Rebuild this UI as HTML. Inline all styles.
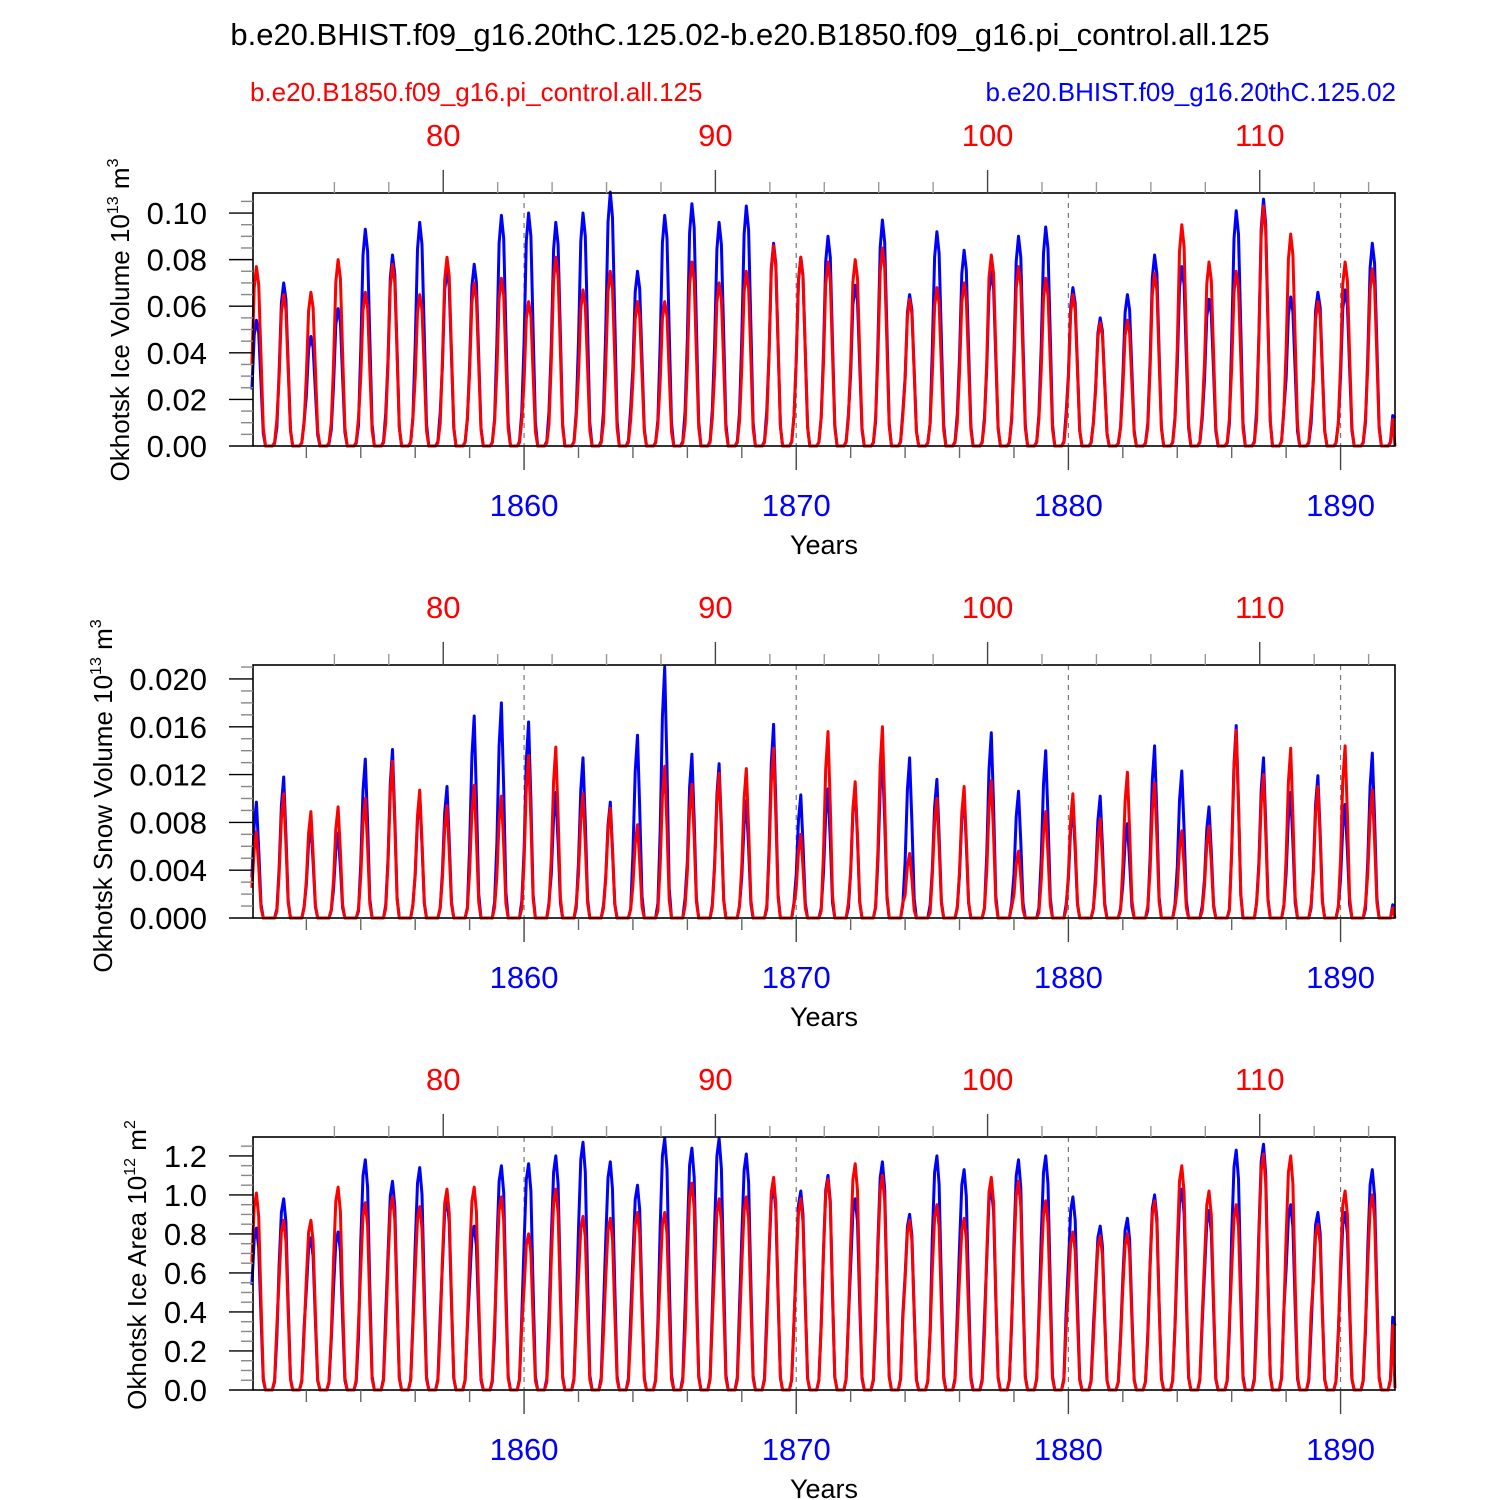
<!DOCTYPE html>
<html><head><meta charset="utf-8"><style>
html,body{margin:0;padding:0;background:#fff}
svg{display:block;font-family:"Liberation Sans",sans-serif}
</style></head><body>
<svg id="chart" width="1500" height="1500" viewBox="0 0 1500 1500" xmlns="http://www.w3.org/2000/svg">
<text x="750" y="45" text-anchor="middle" font-size="31">b.e20.BHIST.f09_g16.20thC.125.02-b.e20.B1850.f09_g16.pi_control.all.125</text>
<text x="250" y="101" font-size="26" fill="#f00">b.e20.B1850.f09_g16.pi_control.all.125</text>
<text x="1396" y="101" text-anchor="end" font-size="26" fill="#00f">b.e20.BHIST.f09_g16.20thC.125.02</text>
</svg>
<script>
const years = [1850,1851,1852,1853,1854,1855,1856,1857,1858,1859,1860,1861,1862,1863,1864,1865,1866,1867,1868,1869,1870,1871,1872,1873,1874,1875,1876,1877,1878,1879,1880,1881,1882,1883,1884,1885,1886,1887,1888,1889,1890,1891];
const iceVolBlue = [.054,.070,.047,.059,.093,.082,.096,.076,.078,.099,.100,.096,.100,.109,.075,.099,.104,.096,.103,.087,.081,.090,.069,.097,.065,.092,.084,.075,.090,.094,.068,.055,.065,.082,.077,.063,.101,.106,.064,.066,.067,.087];
const iceVolRed = [.077,.065,.066,.080,.066,.078,.065,.081,.070,.072,.062,.081,.067,.075,.062,.062,.079,.070,.075,.086,.081,.079,.080,.085,.063,.068,.070,.082,.077,.072,.065,.053,.054,.074,.095,.079,.075,.103,.091,.062,.079,.076];
const snowBlue = [.0097,.0118,.0078,.0071,.0133,.0141,.0102,.0110,.0169,.0180,.0164,.0105,.0134,.0097,.0153,.0210,.0137,.0129,.0098,.0162,.0103,.0108,.0110,.0135,.0134,.0116,.0103,.0155,.0106,.0140,.0094,.0102,.0079,.0144,.0123,.0093,.0161,.0134,.0105,.0119,.0095,.0138];
const snowRed = [.0072,.0104,.0089,.0093,.0100,.0131,.0107,.0094,.0111,.0102,.0136,.0143,.0104,.0092,.0078,.0127,.0112,.0121,.0125,.0142,.0070,.0156,.0114,.0160,.0054,.0100,.0110,.0115,.0056,.0089,.0104,.0083,.0122,.0113,.0073,.0077,.0157,.0120,.0142,.0110,.0144,.0107];
const areaBlue = [.83,.98,.78,.81,1.18,1.07,1.14,.98,.84,1.15,1.16,1.20,1.27,1.17,1.05,1.29,1.24,1.29,1.21,1.05,1.02,1.10,.98,1.17,.90,1.20,1.13,1.04,1.18,1.20,.99,.84,.88,1.00,1.03,.92,1.23,1.26,.95,.91,.91,1.13];
const areaRed = [1.01,.87,.87,1.04,.96,.99,.94,1.03,1.04,.99,.80,1.03,.89,.88,.91,.91,1.06,.98,.99,1.09,.98,1.08,1.16,1.10,.87,.95,.88,1.09,1.07,.97,.81,.79,.80,.97,1.15,1.02,.95,1.21,1.20,.85,1.02,1.00];
const shapeIce = [.45,.88,1.0,.9,.5,.1,0,0,0,0,.02,.15];
const shapeSnow = [.35,.8,1.0,.6,.12,0,0,0,0,0,0,.08];
const shapeArea = [.65,.93,1.0,.88,.45,.06,0,0,0,0,.05,.33];
const endJan = [[.012,0],[.001,0],[.33,.01]];
const blueTicks = [1860,1870,1880,1890];
const redTicks = [80,90,100,110];
const redOffset = 1777.03;

const svg = document.getElementById('chart');
const NS = 'http://www.w3.org/2000/svg';
function mk(tag, attrs, parent){const e=document.createElementNS(NS,tag);for(const k in attrs)e.setAttribute(k,attrs[k]);(parent||svg).appendChild(e);return e;}
const X0=253, X1=1395, XMIN=1850.04, XMAX=1892.0;
const xs = t => X0 + (t-XMIN)/(XMAX-XMIN)*(X1-X0);

const panels = [
 {top:193,ymax:0.1086,major:[0,.02,.04,.06,.08,.10],dec:2,minor:.005,blue:iceVolBlue,red:iceVolRed,shape:shapeIce,title:['Okhotsk Ice Volume 10','13',' m','3'],tx:120,cy:320,name:'ice-volume'},
 {top:665,ymax:0.02117,major:[0,.004,.008,.012,.016,.020],dec:3,minor:.001,blue:snowBlue,red:snowRed,shape:shapeSnow,title:['Okhotsk Snow Volume 10','13',' m','3'],tx:103,cy:796,name:'snow-volume'},
 {top:1137,ymax:1.297,major:[0,.2,.4,.6,.8,1.0,1.2],dec:1,minor:.05,blue:areaBlue,red:areaRed,shape:shapeArea,title:['Okhotsk Ice Area 10','12',' m','2'],tx:137,cy:1265,name:'ice-area'}
];
panels.forEach((p,pi)=>{
  const top=p.top, bot=top+253;
  const ys = v => bot - v/p.ymax*(bot-top);
  const g = mk('g',{});
  
  
  blueTicks.forEach(t=>{
    const l=mk('line',{x1:xs(t),x2:xs(t),y1:top,y2:bot,stroke:'#777','stroke-width':1.2,'stroke-dasharray':'5,5'},g);
    
    
  });
  [['blue',p.blue,0],['red',p.red,1]].forEach(([col,arr,si])=>{
    const pts=[];
    years.forEach((y,i)=>{ p.shape.forEach((s,m)=>{ pts.push([xs(y+m/12),ys(arr[i]*s)]); }); });
    pts.push([xs(XMAX),ys(endJan[pi][si])]);
    const pl=mk('polyline',{points:pts.map(q=>q[0].toFixed(1)+','+q[1].toFixed(1)).join(' '),fill:'none',stroke:col==='blue'?'#00f':'#f00','stroke-width':3,'stroke-linejoin':'round'},g);
    
    
  });
  const fr=mk('rect',{x:X0,y:top,width:X1-X0,height:bot-top,fill:'none',stroke:'#000','stroke-width':1.6},g);
  
  
  for(let v=0; v<=p.ymax+1e-9; v+=p.minor){
    const isMaj = p.major.some(m=>Math.abs(m-v)<p.minor/10);
    mk('line',{x1:isMaj?229:241,x2:X0,y1:ys(v),y2:ys(v),stroke:isMaj?'#000':'#888','stroke-width':1.4},g);
  }
  p.major.forEach(v=>{
    const t=mk('text',{x:207,y:ys(v)+11,'text-anchor':'end','font-size':31},g);
    t.textContent=v.toFixed(p.dec);
    
    
  });
  for(let y=1852;y<=1891;y+=2){
    const maj=y%10===0;
    mk('line',{x1:xs(y),x2:xs(y),y1:bot,y2:bot+(maj?24:12),stroke:maj?'#444':'#666','stroke-width':1.4},g);
  }
  blueTicks.forEach(y=>{
    const t=mk('text',{x:xs(y),y:bot+70,'text-anchor':'middle','font-size':31,fill:'#00f'},g);
    t.textContent=y;
    
    
  });
  const xt=mk('text',{x:824,y:bot+108,'text-anchor':'middle','font-size':27},g);
  xt.textContent='Years';
  
  
  for(let r=76;r<=114;r+=2){
    const x=xs(r+redOffset); if(x<X0||x>X1) continue;
    const maj=r%10===0;
    mk('line',{x1:x,x2:x,y1:top,y2:top-(maj?23:11),stroke:maj?'#444':'#999','stroke-width':1.4},g);
  }
  redTicks.forEach(r=>{
    const t=mk('text',{x:xs(r+redOffset),y:top-47,'text-anchor':'middle','font-size':31,fill:'#f00'},g);
    t.textContent=r;
    
    
  });
  const yt=mk('text',{transform:`translate(${p.tx+9},${p.cy}) rotate(-90)`,'text-anchor':'middle','font-size':26},g);
  
  
  const parts=p.title;
  const s0=mk('tspan',{},yt); s0.textContent=parts[0];
  const s1=mk('tspan',{dy:-11,'font-size':16},yt); s1.textContent=parts[1];
  const s2=mk('tspan',{dy:11},yt); s2.textContent=parts[2];
  const s3=mk('tspan',{dy:-11,'font-size':16},yt); s3.textContent=parts[3];
});
</script>
</body></html>
